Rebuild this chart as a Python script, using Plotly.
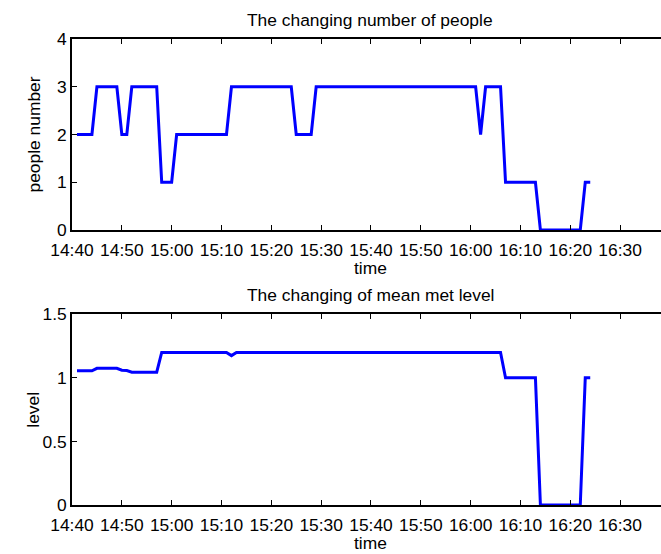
import plotly.graph_objects as go

# ---- data (vertices) ----
people_times = ["14:41", "14:44", "14:45", "14:49", "14:50", "14:51", "14:52", "14:57",
                "14:58", "15:00", "15:01", "15:11", "15:12", "15:24", "15:25", "15:28",
                "15:29", "16:01", "16:02", "16:03", "16:06", "16:07", "16:13", "16:14",
                "16:22", "16:23", "16:24"]
people_values = [2, 2, 3, 3, 2, 2, 3, 3,
                 1, 1, 2, 2, 3, 3, 2, 2,
                 3, 3, 2, 3, 3, 1, 1, 0,
                 0, 1, 1]

met_times = ["14:41", "14:44", "14:45", "14:49", "14:50", "14:51", "14:52", "14:57",
             "14:58", "15:11", "15:12", "15:13", "16:06", "16:07", "16:13", "16:14",
             "16:22", "16:23", "16:24"]
met_values = [1.055, 1.055, 1.075, 1.075, 1.06, 1.058, 1.045, 1.045,
              1.2, 1.2, 1.175, 1.2, 1.2, 1.0, 1.0, 0.0,
              0.0, 1.0, 1.0]

x_tick_labels = ["14:40", "14:50", "15:00", "15:10", "15:20", "15:30",
                 "15:40", "15:50", "16:00", "16:10", "16:20", "16:30"]
people_ticks = [0, 1, 2, 3, 4]
met_ticks = [0, 0.5, 1, 1.5]

DAY = "2000-01-01 "
def ts(t):
    return DAY + t + ":00"

W, H = 661, 554
FONT = "Liberation Sans, Arial, sans-serif"
FS = 17.4

fig = go.Figure()
fig.add_trace(go.Scatter(x=[ts(t) for t in people_times], y=people_values, mode="lines",
                         line=dict(color="#0000ff", width=3), xaxis="x", yaxis="y",
                         showlegend=False, cliponaxis=False))
fig.add_trace(go.Scatter(x=[ts(t) for t in met_times], y=met_values, mode="lines",
                         line=dict(color="#0000ff", width=3), xaxis="x2", yaxis="y2",
                         showlegend=False, cliponaxis=False))

x_left = 72 / W
x_range = [ts("14:40"), DAY + "16:38:12"]
tickvals = [ts(t) for t in x_tick_labels]

def py(p):
    return 1 - p / H

common_x = dict(range=x_range, tickvals=tickvals, ticktext=x_tick_labels,
                showline=True, linecolor="black", linewidth=1.5, mirror="ticks",
                ticks="inside", ticklen=5, tickwidth=1.2, tickcolor="black",
                showgrid=False, zeroline=False, automargin=False,
                ticklabelstandoff=3,
                tickfont=dict(family=FONT, size=FS, color="black"))
common_y = dict(showline=True, linecolor="black", linewidth=1.5, mirror=False,
                ticks="inside", ticklen=5, tickwidth=1.2, tickcolor="black",
                showgrid=False, zeroline=False, automargin=False,
                tickfont=dict(family=FONT, size=FS, color="black"))

fig.update_layout(
    width=W, height=H,
    margin=dict(l=0, r=0, t=0, b=0),
    paper_bgcolor="white", plot_bgcolor="white",
    font=dict(family=FONT, size=FS, color="black"),
    xaxis=dict(domain=[x_left, 1], anchor="y", **common_x),
    yaxis=dict(domain=[py(230), py(39)], anchor="x", range=[0, 4],
               tickvals=people_ticks, **common_y),
    xaxis2=dict(domain=[x_left, 1], anchor="y2", **common_x),
    yaxis2=dict(domain=[py(505), py(314.3)], anchor="x2", range=[0, 1.5],
                tickvals=met_ticks, ticktext=["0", "0.5", "1", "1.5"], **common_y),
)

def ann(text, x, y, angle=0):
    fig.add_annotation(text=text, x=x / W, y=py(y), xref="paper", yref="paper",
                       showarrow=False, xanchor="center", yanchor="middle",
                       textangle=angle, font=dict(family=FONT, size=FS, color="black"))

ann("The changing number of people", 370, 19.8)
ann("time", 370, 268)
ann("people number", 33, 134.5, -90)
ann("The changing of mean met level", 370, 295)
ann("time", 370, 543)
ann("level", 33, 409.7, -90)

fig.write_html(
    "out.html",
    config={"displayModeBar": False},
    post_script="document.body.style.margin='0';document.body.style.padding='0';"
                "document.body.style.overflow='hidden';",
)
